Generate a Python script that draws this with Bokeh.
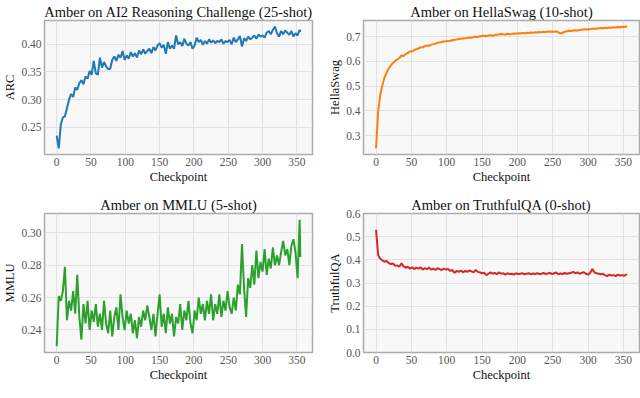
from bokeh.plotting import figure
from bokeh.layouts import column, row
from bokeh.models import Range1d, FixedTicker, NumeralTickFormatter
from bokeh.embed import file_html
from bokeh.resources import INLINE

# ---------------- data ----------------
checkpoints = list(range(0, 355, 3)) + [355]

arc = [
    0.235, 0.212, 0.255, 0.268, 0.270, 0.285, 0.300, 0.310, 0.305, 0.322,
    0.318, 0.330, 0.335, 0.328, 0.342, 0.338, 0.352, 0.345, 0.370, 0.348,
    0.345, 0.376, 0.358, 0.368, 0.360, 0.355, 0.356, 0.372, 0.378, 0.370,
    0.381, 0.376, 0.388, 0.372, 0.380, 0.374, 0.386, 0.378, 0.384, 0.376,
    0.389, 0.382, 0.391, 0.383, 0.388, 0.392, 0.384, 0.395, 0.389, 0.398,
    0.402, 0.394, 0.399, 0.383, 0.404, 0.392, 0.398, 0.392, 0.416, 0.400,
    0.404, 0.397, 0.410, 0.401, 0.398, 0.404, 0.392, 0.398, 0.412, 0.404,
    0.408, 0.399, 0.406, 0.401, 0.409, 0.403, 0.407, 0.402, 0.406, 0.404,
    0.409, 0.401, 0.406, 0.404, 0.408, 0.400, 0.412, 0.404, 0.409, 0.415,
    0.396, 0.411, 0.406, 0.414, 0.409, 0.412, 0.416, 0.410, 0.418, 0.414,
    0.416, 0.412, 0.421, 0.424, 0.418, 0.426, 0.432, 0.420, 0.414, 0.424,
    0.418, 0.425, 0.421, 0.417, 0.424, 0.414, 0.420, 0.416, 0.426, 0.422,
]

hellaswag = [
    0.248, 0.400, 0.465, 0.505, 0.535, 0.555, 0.572, 0.584, 0.594, 0.602,
    0.608, 0.614, 0.624, 0.622, 0.630, 0.634, 0.640, 0.641, 0.646, 0.650,
    0.652, 0.658, 0.656, 0.662, 0.664, 0.663, 0.668, 0.670, 0.672, 0.676,
    0.677, 0.679, 0.681, 0.682, 0.683, 0.684, 0.686, 0.688, 0.689, 0.691,
    0.692, 0.693, 0.694, 0.695, 0.697, 0.696, 0.699, 0.700, 0.699, 0.702,
    0.703, 0.704, 0.702, 0.705, 0.706, 0.704, 0.707, 0.708, 0.709, 0.711,
    0.710, 0.709, 0.712, 0.710, 0.711, 0.713, 0.712, 0.714, 0.713, 0.715,
    0.714, 0.716, 0.715, 0.717, 0.716, 0.718, 0.717, 0.719, 0.718, 0.720,
    0.719, 0.721, 0.720, 0.721, 0.720, 0.722, 0.718, 0.713, 0.716, 0.720,
    0.722, 0.724, 0.723, 0.725, 0.726, 0.725, 0.727, 0.728, 0.729, 0.730,
    0.729, 0.731, 0.732, 0.733, 0.732, 0.734, 0.735, 0.734, 0.736, 0.735,
    0.737, 0.736, 0.738, 0.737, 0.739, 0.738, 0.740, 0.739, 0.741, 0.740,
]

mmlu = [
    0.230, 0.261, 0.258, 0.264, 0.279, 0.246, 0.258, 0.252, 0.264, 0.250,
    0.274, 0.248, 0.234, 0.256, 0.244, 0.258, 0.240, 0.252, 0.245, 0.256,
    0.242, 0.250, 0.240, 0.258, 0.244, 0.238, 0.252, 0.236, 0.248, 0.254,
    0.240, 0.262, 0.248, 0.240, 0.252, 0.244, 0.250, 0.238, 0.246, 0.235,
    0.248, 0.242, 0.252, 0.246, 0.255, 0.248, 0.240, 0.250, 0.236, 0.250,
    0.262, 0.242, 0.250, 0.238, 0.254, 0.244, 0.250, 0.236, 0.248, 0.244,
    0.256, 0.240, 0.252, 0.246, 0.258, 0.244, 0.238, 0.252, 0.246, 0.260,
    0.250, 0.256, 0.246, 0.258, 0.250, 0.262, 0.246, 0.256, 0.250, 0.262,
    0.248, 0.258, 0.252, 0.264, 0.254, 0.250, 0.260, 0.252, 0.268, 0.262,
    0.293, 0.266, 0.248, 0.272, 0.266, 0.280, 0.268, 0.289, 0.272, 0.282,
    0.276, 0.290, 0.274, 0.284, 0.278, 0.291, 0.280, 0.286, 0.280, 0.288,
    0.295, 0.286, 0.290, 0.280, 0.292, 0.296, 0.288, 0.272, 0.308, 0.285,
]

truthfulqa = [
    0.530, 0.420, 0.405, 0.398, 0.392, 0.395, 0.386, 0.382, 0.384, 0.374,
    0.376, 0.370, 0.385, 0.372, 0.366, 0.370, 0.362, 0.368, 0.360, 0.366,
    0.362, 0.368, 0.358, 0.364, 0.360, 0.366, 0.358, 0.362, 0.356, 0.364,
    0.360, 0.356, 0.362, 0.358, 0.360, 0.352, 0.356, 0.344, 0.352, 0.348,
    0.354, 0.346, 0.352, 0.348, 0.354, 0.350, 0.346, 0.356, 0.348, 0.346,
    0.342, 0.344, 0.334, 0.340, 0.346, 0.340, 0.344, 0.338, 0.346, 0.340,
    0.342, 0.336, 0.342, 0.338, 0.340, 0.336, 0.342, 0.338, 0.340, 0.342,
    0.338, 0.340, 0.342, 0.338, 0.341, 0.339, 0.342, 0.338, 0.340, 0.343,
    0.339, 0.341, 0.344, 0.338, 0.342, 0.345, 0.338, 0.341, 0.339, 0.343,
    0.340, 0.342, 0.344, 0.348, 0.342, 0.346, 0.340, 0.344, 0.346, 0.340,
    0.336, 0.344, 0.360, 0.346, 0.342, 0.340, 0.338, 0.340, 0.334, 0.330,
    0.336, 0.332, 0.334, 0.330, 0.336, 0.332, 0.334, 0.331, 0.336, 0.334,
]

x_ticks = [0, 50, 100, 150, 200, 250, 300, 350]
arc_ticks = [0.25, 0.30, 0.35, 0.40]
hella_ticks = [0.3, 0.4, 0.5, 0.6, 0.7]
mmlu_ticks = [0.24, 0.26, 0.28, 0.30]
truth_ticks = [0.0, 0.1, 0.2, 0.3, 0.4, 0.5, 0.6]

titles = [
    "Amber on AI2 Reasoning Challenge (25-shot)",
    "Amber on HellaSwag (10-shot)",
    "Amber on MMLU (5-shot)",
    "Amber on TruthfulQA (0-shot)",
]
ylabels = ["ARC", "HellaSwag", "MMLU", "TruthfulQA"]
colors = ["#1f77b4", "#ff7f0e", "#2ca02c", "#d62728"]

SERIF = "Liberation Serif"


def padded(vals, frac=0.05):
    lo, hi = min(vals), max(vals)
    pad = (hi - lo) * frac
    return lo - pad, hi + pad


def make(title, ylabel, ys, color, yticks, fmt, width, height,
         bl, br, bt, bb, yrange=None):
    x0, x1 = padded(checkpoints)
    if yrange is None:
        yrange = padded(ys)
    p = figure(width=width, height=height, output_backend="svg",
               toolbar_location=None, title=title,
               x_range=Range1d(x0, x1), y_range=Range1d(*yrange),
               min_border_left=bl, min_border_right=br,
               min_border_top=bt, min_border_bottom=bb)
    p.line(checkpoints, ys, line_color=color, line_width=2.0)

    p.title.text_font = SERIF
    p.title.text_font_size = "14.5px"
    p.title.text_font_style = "normal"
    p.title.text_color = "#111111"
    p.title.align = "center"
    p.title.standoff = 2

    p.background_fill_color = "#f8f8f8"
    p.border_fill_color = "white"
    p.outline_line_color = "#ababab"
    p.outline_line_width = 1.5

    for ax in (p.xaxis[0], p.yaxis[0]):
        ax.axis_line_color = None
        ax.major_tick_line_color = None
        ax.minor_tick_line_color = None
        ax.major_tick_out = 0
        ax.major_tick_in = 0
        ax.major_label_text_font = SERIF
        ax.major_label_text_font_size = "11.5px"
        ax.major_label_text_color = "#555555"
        ax.axis_label_text_font = SERIF
        ax.axis_label_text_font_size = "12.5px"
        ax.axis_label_text_font_style = "normal"
        ax.axis_label_text_color = "#111111"
        ax.major_label_standoff = 3
        ax.axis_label_standoff = 1

    p.xaxis.ticker = FixedTicker(ticks=x_ticks)
    p.yaxis.ticker = FixedTicker(ticks=yticks)
    p.yaxis.formatter = NumeralTickFormatter(format=fmt)
    p.xaxis.axis_label = "Checkpoint"
    p.yaxis.axis_label = ylabel

    p.xgrid.grid_line_color = "#e2e2e2"
    p.ygrid.grid_line_color = "#e2e2e2"
    p.xgrid.grid_line_width = 1
    p.ygrid.grid_line_width = 1
    return p


# left column: 0..325, right column: 325..640
p1 = make(titles[0], ylabels[0], arc, colors[0], arc_ticks, "0.00",
          325, 190, 36, 13, 18, 35)
p2 = make(titles[1], ylabels[1], hellaswag, colors[1], hella_ticks, "0.0",
          315, 190, 34, 1, 18, 36)
p3 = make(titles[2], ylabels[2], mmlu, colors[2], mmlu_ticks, "0.00",
          325, 208, 36, 13, 23, 46)
p4 = make(titles[3], ylabels[3], truthfulqa, colors[3], truth_ticks, "0.0",
          315, 208, 34, 1, 22, 46, yrange=(0.0, 0.6))

layout = column(row(p1, p2), row(p3, p4))

with open("out.html", "w") as f:
    f.write(file_html(layout, INLINE))
